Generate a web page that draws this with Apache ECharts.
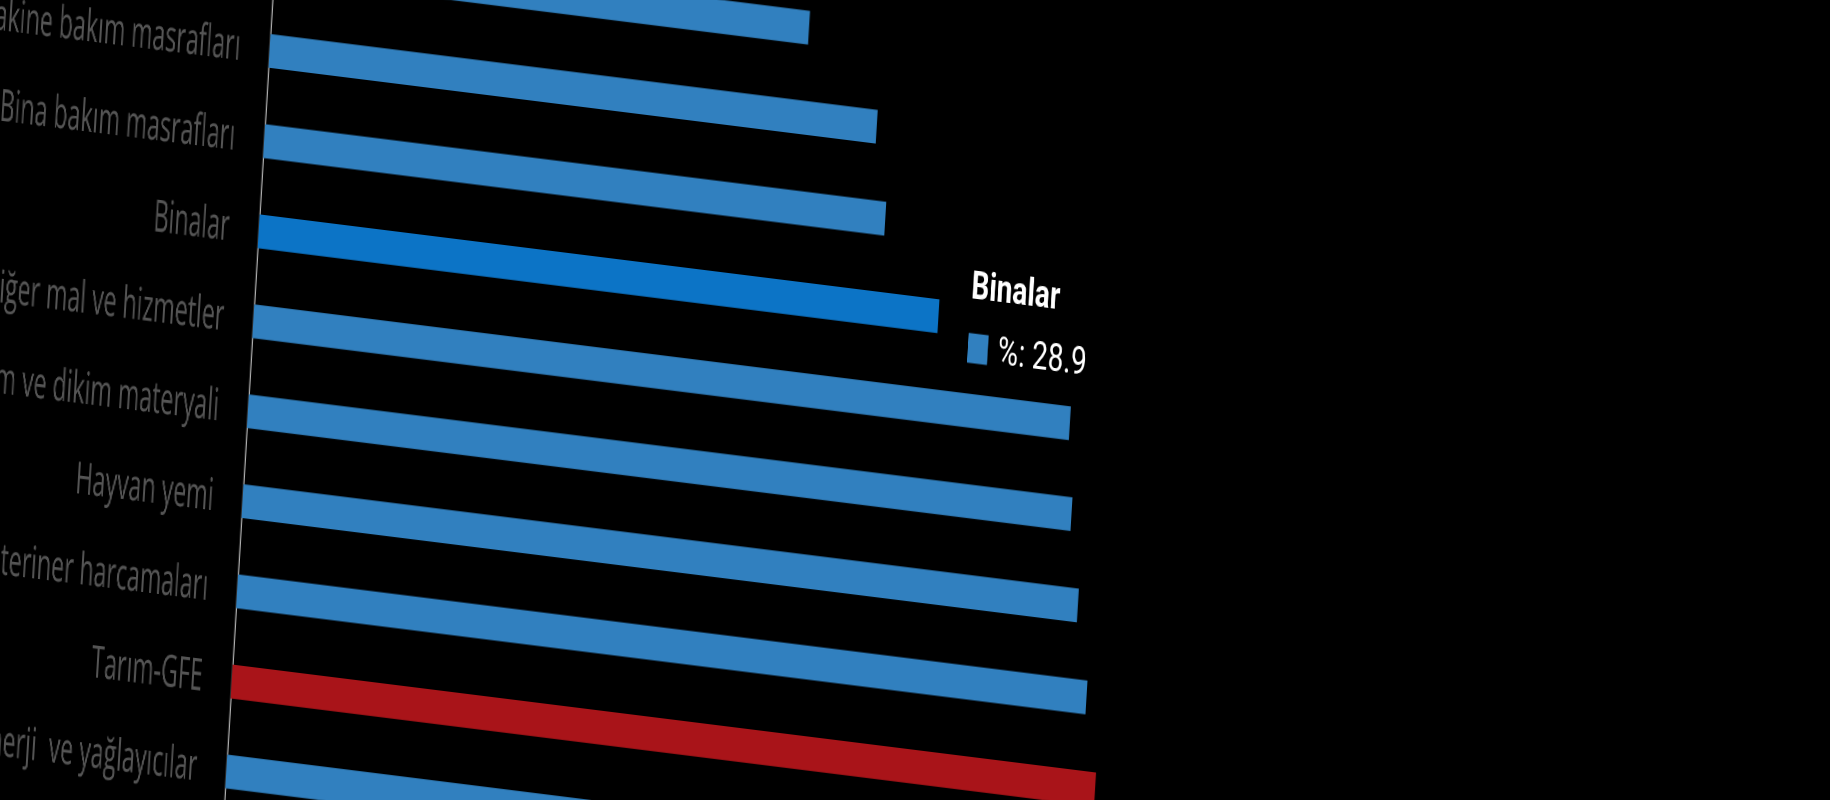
<!DOCTYPE html>
<html>
<head>
<meta charset="utf-8" />
<title>Tarım-GFE</title>
<style>
    html, body { margin: 0; padding: 0; background: #000; width: 1830px; height: 800px; overflow: hidden; }
    /* the reference is a tilted, squeezed view of the chart, so the whole chart box gets the same skew */
    #main { position: absolute; left: 0; top: 0; width: 2200px; height: 700px;
            transform-origin: 0 0; transform: matrix(0.7, 0.0875, -0.081, 1.35, -16.1, -120.75); }
</style>
</head>
<body>
<div id="main"></div>
<script src="https://cdn.jsdelivr.net/npm/echarts@6/dist/echarts.min.js"></script>
<script>
    // top to bottom
    var categories = ['Makine ve diğer ekipmanlar', 'Makine bakım masrafları', 'Bina bakım masrafları', 'Binalar',
        'Diğer mal ve hizmetler', 'Tohum ve dikim materyali', 'Hayvan yemi', 'Veteriner harcamaları',
        'Tarım-GFE', 'Enerji  ve yağlayıcılar'];
    var values = [22.7, 25.8, 26.4, 28.9, 34.7, 35.0, 35.5, 36.1, 36.7, 40.2];
    var totalName = 'Tarım-GFE';
    var shownName = 'Binalar';

    var blue = '#3180bf';
    var red = '#a91419';

    var myChart = echarts.init(document.getElementById('main'), null, { devicePixelRatio: 2 });
    var option = {
        backgroundColor: '#000',
        animation: false,
        grid: { left: 420, top: 0, width: 1680, height: 667, outerBoundsMode: 'none' },
        tooltip: {
            trigger: 'item',
            triggerOn: 'none',
            alwaysShowContent: true,
            position: [1435, 188],
            backgroundColor: 'transparent',
            borderWidth: 0,
            padding: 0,
            transitionDuration: 0,
            extraCssText: 'box-shadow:none;',
            formatter: function (p) {
                // undo the horizontal squeeze of the box for the tooltip text
                return '<div style="transform:scaleX(1.4286);transform-origin:0 0;white-space:nowrap">' +
                    '<div style="font-family:Roboto;font-weight:bold;font-size:28px;line-height:40px;color:#fff">' + p.name + '</div>' +
                    '<div style="margin-top:10px;font-family:Roboto;font-size:28px;line-height:32px;color:#fff">' +
                    '<span style="display:inline-block;width:20px;height:22px;background:' + blue + ';margin-right:10px;vertical-align:-2px"></span>' +
                    '%: ' + p.value.toFixed(1) + '</div></div>';
            }
        },
        xAxis: { type: 'value', min: 0, max: 50, show: false },
        yAxis: {
            type: 'category',
            inverse: true,
            data: categories,
            axisLine: { show: true, lineStyle: { color: '#b0b0b0', width: 2 } },
            axisTick: { show: false },
            axisLabel: {
                color: '#555',
                fontSize: 33,
                fontFamily: "'Open Sans', sans-serif",
                margin: 42
            }
        },
        series: [{
            name: '%',
            type: 'bar',
            barWidth: 25,
            data: values.map(function (v, i) {
                return { value: v, itemStyle: { color: categories[i] === totalName ? red : blue } };
            }),
            emphasis: { itemStyle: { color: '#0c74c6' } }
        }]
    };
    myChart.setOption(option);

    var idx = categories.indexOf(shownName);
    myChart.dispatchAction({ type: 'highlight', seriesIndex: 0, dataIndex: idx });
    myChart.dispatchAction({ type: 'showTip', seriesIndex: 0, dataIndex: idx });
</script>
</body>
</html>
